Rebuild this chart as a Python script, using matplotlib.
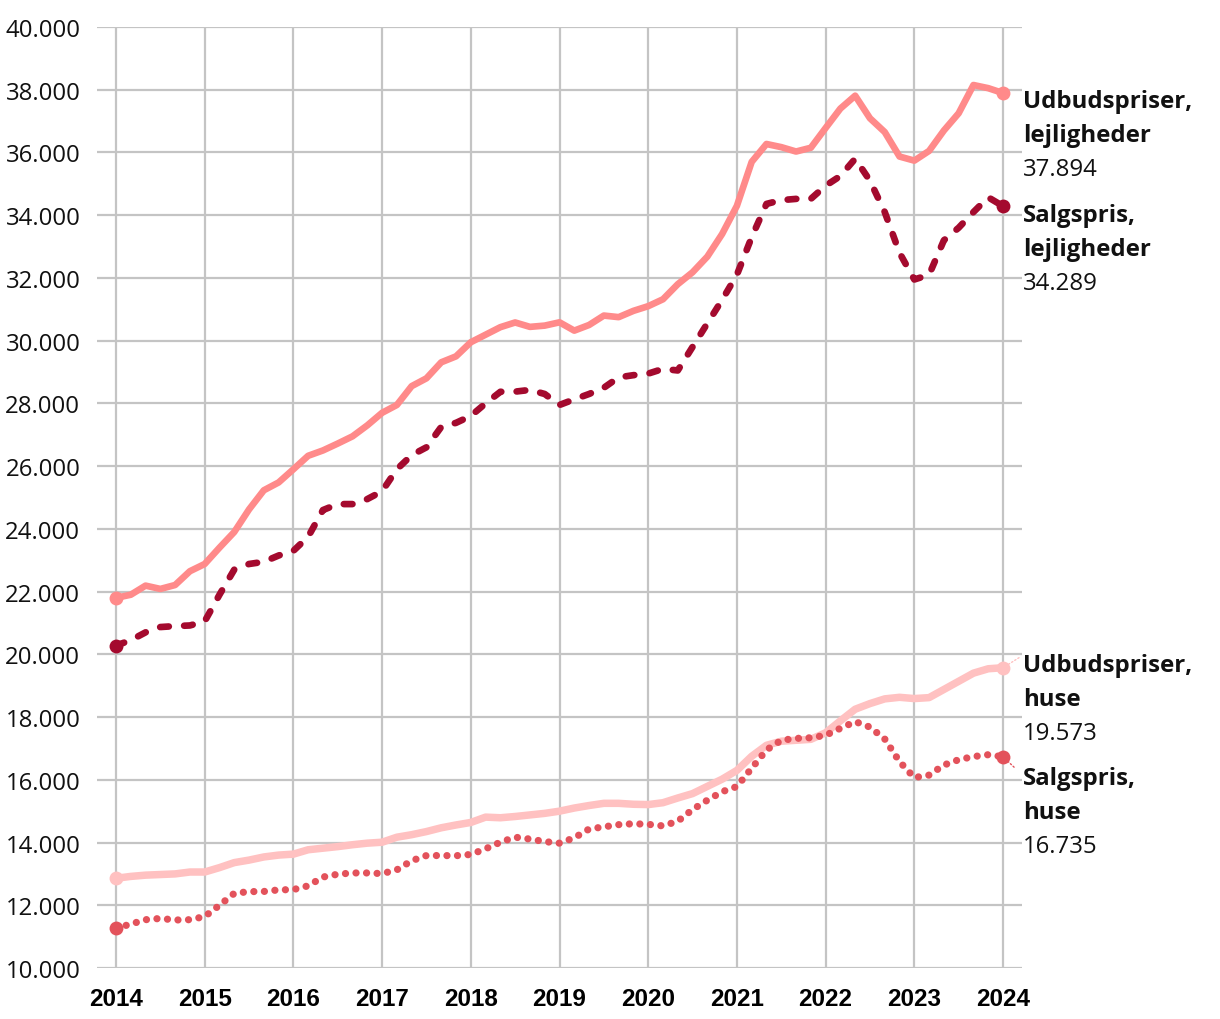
import numpy as np
import pandas as pd
import matplotlib
matplotlib.use('Agg')
import matplotlib.pyplot as plt

# Kvadratmeterpriser (kr.) hver anden maaned, jan 2014 - jan 2024
dates = pd.date_range('2014-01-01', '2024-01-01', freq='2MS')
t = dates.year + (dates.month - 1) / 12

udbud_lejl = [21800, 21900, 22190, 22085, 22210, 22650,
              22880, 23400, 23900, 24620, 25230, 25480,
              25900, 26330, 26500, 26720, 26950, 27300,
              27700, 27950, 28550, 28800, 29310, 29500,
              29950, 30190, 30430, 30580, 30440, 30480,
              30585, 30320, 30500, 30800, 30750, 30950,
              31100, 31320, 31800, 32180, 32680, 33400,
              34300, 35700, 36270, 36170, 36030, 36150,
              36780, 37400, 37810, 37090, 36650, 35870,
              35740, 36050, 36700, 37250, 38150, 38050,
              37894]

salg_lejl = [20280, 20450, 20700, 20870, 20900, 20920,
             21050, 21900, 22700, 22880, 22950, 23150,
             23300, 23750, 24600, 24790, 24790, 24950,
             25200, 25900, 26350, 26600, 27250, 27380,
             27600, 28000, 28370, 28375, 28430, 28300,
             27950, 28130, 28300, 28500, 28830, 28900,
             28950, 29100, 29050, 29800, 30550, 31300,
             32100, 33300, 34360, 34480, 34520, 34520,
             34940, 35250, 35800, 35100, 34100, 32800,
             31950, 32100, 33200, 33600, 34100, 34570,
             34289]

udbud_huse = [12860, 12920, 12960, 12980, 13000, 13060,
              13060, 13200, 13360, 13440, 13540, 13600,
              13630, 13770, 13820, 13870, 13930, 13980,
              14010, 14170, 14250, 14350, 14470, 14560,
              14640, 14810, 14790, 14830, 14880, 14930,
              15000, 15100, 15180, 15250, 15250, 15220,
              15210, 15270, 15420, 15560, 15790, 16020,
              16300, 16750, 17100, 17230, 17260, 17290,
              17500, 17880, 18250, 18430, 18580, 18630,
              18590, 18620, 18880, 19140, 19400, 19540,
              19573]

salg_huse = [11270, 11400, 11540, 11580, 11530, 11540,
             11640, 12000, 12380, 12435, 12440, 12490,
             12500, 12620, 12900, 12990, 13030, 13030,
             13010, 13130, 13420, 13585, 13585, 13580,
             13620, 13800, 14010, 14170, 14110, 14030,
             13980, 14150, 14430, 14500, 14570, 14600,
             14580, 14530, 14680, 15050, 15350, 15620,
             15785, 16370, 16950, 17260, 17320, 17340,
             17420, 17640, 17855, 17680, 17300, 16580,
             16070, 16150, 16470, 16640, 16740, 16800,
             16735]

labels = ['Udbudspriser,\nlejligheder', 'Salgspris,\nlejligheder',
          'Udbudspriser,\nhuse', 'Salgspris,\nhuse']
label_y = [37641, 34007, 19662, 16060]   # placering af foerste tekstlinje

c_udbud_lejl = '#ff8a8a'
c_salg_lejl = '#a40a2e'
c_udbud_huse = '#ffc1c1'
c_salg_huse = '#e3525b'


def fmt(v):
    return f'{v:,.0f}'.replace(',', '.')


fig = plt.figure(figsize=(12.2, 10.2), dpi=100)
ax = fig.add_axes([97 / 1220, 1 - 969 / 1020, (1022 - 97) / 1220, (969 - 28) / 1020])

# huse
ax.plot(t, udbud_huse, color=c_udbud_huse, lw=5.4, solid_capstyle='round', zorder=3)
ln, = ax.plot(t, salg_huse, color=c_salg_huse, lw=5.2, zorder=4)
ln.set_dashes([0.01, 1.45])
ln.set_dash_capstyle('round')

# lejligheder
ax.plot(t, udbud_lejl, color=c_udbud_lejl, lw=4.8, solid_capstyle='round', zorder=3)
ln, = ax.plot(t, salg_lejl, color=c_salg_lejl, lw=4.8, zorder=4)
ln.set_dashes([1.3, 2.3])
ln.set_dash_capstyle('round')

series = [udbud_lejl, salg_lejl, udbud_huse, salg_huse]
colors = [c_udbud_lejl, c_salg_lejl, c_udbud_huse, c_salg_huse]
for s, c in zip(series, colors):
    ax.plot([t[0], t[-1]], [s[0], s[-1]], 'o', color=c, ms=10, mec='none',
            zorder=5, clip_on=False)

ax.set_xlim(2013.786, 2024.214)
ax.set_ylim(10000, 40000)
ax.set_yticks(range(10000, 40001, 2000))
ax.set_yticklabels([fmt(v) for v in range(10000, 40001, 2000)],
                   fontfamily='Open Sans', fontsize=17.3, color='#111111')
ax.set_xticks(range(2014, 2025))
ax.set_xticklabels([str(y) for y in range(2014, 2025)],
                   fontfamily='Liberation Sans', fontweight='bold', fontsize=17.5)
ax.tick_params(axis='both', length=0)
ax.tick_params(axis='y', pad=12)
ax.tick_params(axis='x', pad=14)
for sp in ax.spines.values():
    sp.set_visible(False)
ax.grid(True, color='#c4c4c4', lw=1.6)
ax.set_axisbelow(True)

# labels til hoejre
for s, lab, ly, c in zip(series, labels, label_y, colors):
    lines = lab.split('\n')
    for i, line in enumerate(lines):
        ax.annotate(line, (2024.214, ly), xytext=(0.5, -24.5 * i), textcoords='offset points',
                    ha='left', va='center', fontfamily='Open Sans', fontweight='bold',
                    fontsize=17.3, color='#111111', annotation_clip=False)
    ax.annotate(fmt(s[-1]), (2024.214, ly), xytext=(0.5, -49), textcoords='offset points',
                ha='left', va='center', fontfamily='Open Sans', fontsize=17.3,
                color='#111111', annotation_clip=False)

# tynde forbindelseslinjer for huse
ax.annotate('', xy=(2024.214, udbud_huse[-1] + 380), xytext=(t[-1], udbud_huse[-1]),
            arrowprops=dict(arrowstyle='-', color=c_udbud_huse, lw=1, ls=':'),
            annotation_clip=False)
ax.annotate('', xy=(2024.15, salg_huse[-1] - 400), xytext=(t[-1], salg_huse[-1]),
            arrowprops=dict(arrowstyle='-', color=c_salg_huse, lw=1, ls=':'),
            annotation_clip=False)

fig.savefig('out.png', dpi=100)
